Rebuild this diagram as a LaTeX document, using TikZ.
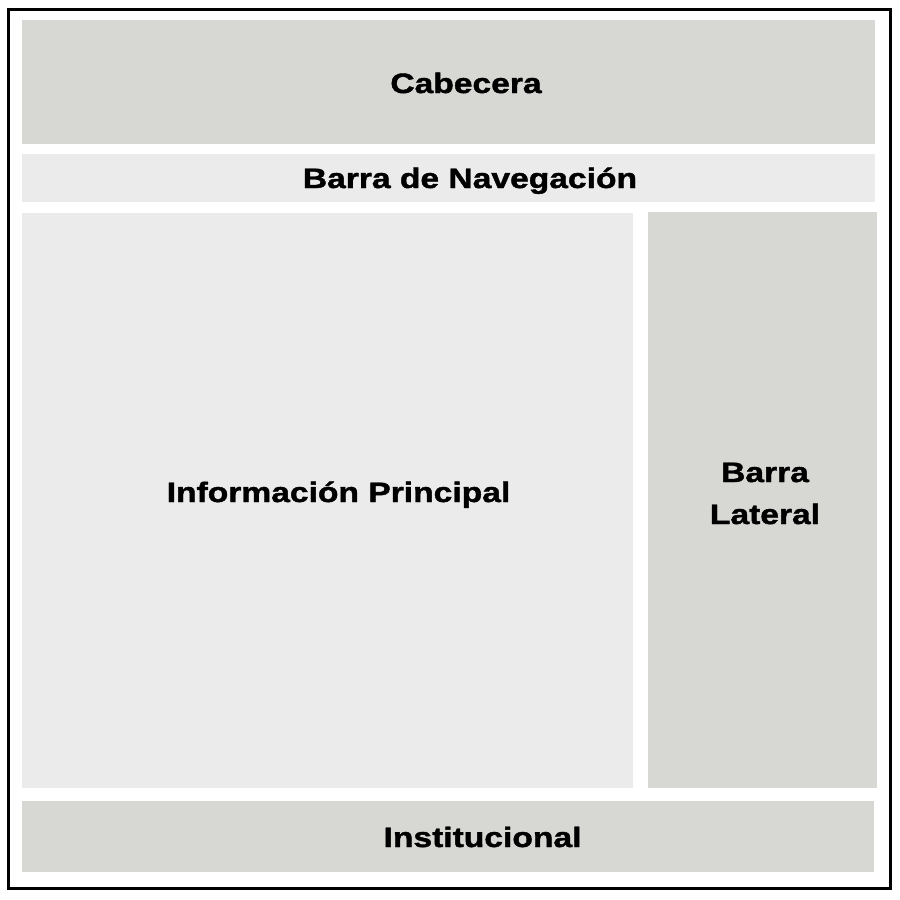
\documentclass[tikz,border=0pt]{standalone}
\usepackage{fontspec}
\setmainfont{Liberation Sans}[FakeStretch=1.2,BoldFeatures={FakeBold=1.5}]
\definecolor{darkarea}{RGB}{215,215,211}
\definecolor{lightarea}{RGB}{235,235,235}
\tikzset{
  area/.style={rectangle,inner sep=0pt,outer sep=0pt,anchor=north west},
  label text/.style={inner sep=0pt,font=\fontsize{28pt}{42pt}\selectfont\bfseries,align=center}
}
\begin{document}
\begin{tikzpicture}[x=1pt,y=-1pt]
                \useasboundingbox (0,0) rectangle (900,900);
                %% frame
                \draw[line width=3pt] (8,9) rectangle (890,888);
                %% areas
                \node[area,fill=darkarea,minimum width=853pt,minimum height=124pt] (cabecera) at (22,20) {};
                \node[area,fill=lightarea,minimum width=853pt,minimum height=48pt] (navegacion) at (22,154) {};
                \node[area,fill=lightarea,minimum width=611pt,minimum height=575pt] (principal) at (22,213) {};
                \node[area,fill=darkarea,minimum width=229pt,minimum height=576pt] (lateral) at (648,212) {};
                \node[area,fill=darkarea,minimum width=852pt,minimum height=71pt] (institucional) at (22,801) {};
                %% labels
                \node[label text,anchor=base] (cabecera text) at (466,93) {Cabecera};
                \node[label text,anchor=base] (navegacion text) at (470,188) {Barra de Navegación};
                \node[label text,anchor=base] (principal text) at (338.5,502) {Información Principal};
                \node[label text,anchor=center] (lateral text) at (765,493.5) {Barra\\Lateral};
                \node[label text,anchor=base] (institucional text) at (482.5,847) {Institucional};
            \end{tikzpicture}
\end{document}
